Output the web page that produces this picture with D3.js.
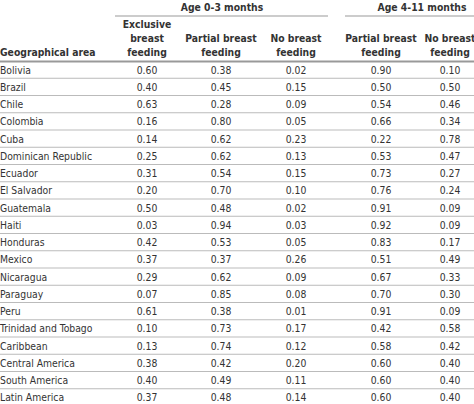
<!DOCTYPE html>
<html><head><meta charset="utf-8">
<script src="https://cdn.jsdelivr.net/npm/d3@7"></script>
<style>body{margin:0;background:#fff}text{font-family:"DejaVu Sans Condensed","DejaVu Sans";font-stretch:condensed}</style>
</head><body><svg id="c" width="474" height="404"></svg>
<script>
const areas=["Bolivia","Brazil","Chile","Colombia","Cuba","Dominican Republic","Ecuador","El Salvador","Guatemala","Haiti","Honduras","Mexico","Nicaragua","Paraguay","Peru","Trinidad and Tobago","Caribbean","Central America","South America","Latin America"];
const excl03=["0.60","0.40","0.63","0.16","0.14","0.25","0.31","0.20","0.50","0.03","0.42","0.37","0.29","0.07","0.61","0.10","0.13","0.38","0.40","0.37"];
const part03=["0.38","0.45","0.28","0.80","0.62","0.62","0.54","0.70","0.48","0.94","0.53","0.37","0.62","0.85","0.38","0.73","0.74","0.42","0.49","0.48"];
const none03=["0.02","0.15","0.09","0.05","0.23","0.13","0.15","0.10","0.02","0.03","0.05","0.26","0.09","0.08","0.01","0.17","0.12","0.20","0.11","0.14"];
const part411=["0.90","0.50","0.54","0.66","0.22","0.53","0.73","0.76","0.91","0.92","0.83","0.51","0.67","0.70","0.91","0.42","0.58","0.60","0.60","0.60"];
const none411=["0.10","0.50","0.46","0.34","0.78","0.47","0.27","0.24","0.09","0.09","0.17","0.49","0.33","0.30","0.09","0.58","0.42","0.40","0.40","0.40"];
const colHeaders=[["Exclusive","breast","feeding"],["Partial breast","feeding"],["No breast","feeding"],["Partial breast","feeding"],["No breast","feeding"]];
const groups=[{label:"Age 0-3 months",x0:115,x1:328,cx:222},{label:"Age 4-11 months",x0:345,x1:474,cx:422}];
const cols=[excl03,part03,none03,part411,none411];
const svg=d3.select("#c");
const x=d3.scaleOrdinal().domain([0,1,2,3,4]).range([147,221,296,381,450]);
const y=d3.scaleBand().domain(areas).range([61,406]);
const fs=10.3, col="#333";
groups.forEach(g=>{
 svg.append("text").attr("x",g.cx).attr("y",11).attr("text-anchor","middle").attr("font-size",fs).attr("font-weight","bold").attr("fill",col).text(g.label);
 svg.append("line").attr("x1",g.x0).attr("x2",g.x1).attr("y1",16).attr("y2",16).attr("stroke","#999").attr("stroke-width",1);
});
colHeaders.forEach((h,i)=>{
 h.forEach((t,j)=>svg.append("text").attr("x",x(i)).attr("y",56-(h.length-1-j)*14).attr("text-anchor","middle").attr("font-size",fs).attr("font-weight","bold").attr("fill",col).text(t));
});
svg.append("text").attr("x",0).attr("y",56).attr("font-size",fs).attr("font-weight","bold").attr("fill",col).text("Geographical area");
svg.append("line").attr("x1",0).attr("x2",474).attr("y1",61.5).attr("y2",61.5).attr("stroke","#999").attr("stroke-width",2);
areas.forEach((a,r)=>{
 const yc=y(a)+y.bandwidth()/2;
 svg.append("text").attr("x",0).attr("y",yc+4).attr("font-size",fs).attr("fill",col).text(a);
 cols.forEach((c,i)=>svg.append("text").attr("x",x(i)).attr("y",yc+4).attr("text-anchor","middle").attr("font-size",fs).attr("fill",col).text(c[r]));
 if(r<areas.length-1) svg.append("line").attr("x1",0).attr("x2",474).attr("y1",y(a)+y.bandwidth()).attr("y2",y(a)+y.bandwidth()).attr("stroke","#bbb").attr("stroke-width",1);
});
</script></body></html>
